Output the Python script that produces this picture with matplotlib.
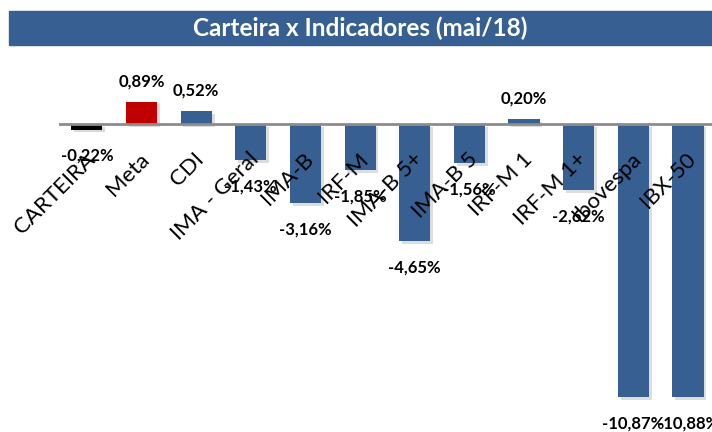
import numpy as np
import matplotlib.pyplot as plt
import matplotlib.patheffects as pe
from matplotlib.patches import Rectangle

plt.rcParams['font.family'] = ['Lato', 'DejaVu Sans']

categories = ["CARTEIRA", "Meta", "CDI", "IMA - Geral", "IMA-B", "IRF-M",
              "IMA-B 5+", "IMA-B 5", "IRF-M 1", "IRF-M 1+", "Ibovespa", "IBX-50"]
values = [-0.22, 0.89, 0.52, -1.43, -3.16, -1.85, -4.65, -1.56, 0.20, -2.62, -10.87, -10.88]
labels = ["-0,22%", "0,89%", "0,52%", "-1,43%", "-3,16%", "-1,85%",
          "-4,65%", "-1,56%", "0,20%", "-2,62%", "-10,87%", "-10,88%"]

blue = "#375F92"
colors = [blue] * len(values)
colors[0] = "#000000"
colors[1] = "#C00000"

fig = plt.figure(figsize=(7.12, 4.32), dpi=100)

# title bar
fig.patches.append(Rectangle((9 / 712, 1 - 45 / 432), 703 / 712, 34 / 432,
                             transform=fig.transFigure, color=blue, zorder=0))
fig.text(0.5 + 4.5 / 712, 1 - 28 / 432, "Carteira x Indicadores (mai/18)",
         ha="center", va="center", color="white", fontsize=17.5, fontweight="bold")

ax = fig.add_axes([59 / 712, 0, 653 / 712, 1 - 60 / 432])
x = np.arange(len(values))
bars = ax.bar(x, values, width=0.57, color=colors, zorder=3)
for b in bars:
    b.set_path_effects([pe.SimplePatchShadow(offset=(2, -2), alpha=0.15), pe.Normal()])

ax.axhline(0, color="#8C8C8C", lw=2, zorder=4)
ax.set_xlim(-0.51, 11.44)
ax.set_ylim(-12.27, 2.55)
ax.axis("off")

for xi, v, lab in zip(x, values, labels):
    if v >= 0:
        ax.text(xi, v + 0.8, lab, ha="center", va="center", fontsize=12,
                fontweight="bold", zorder=5)
    else:
        ax.text(xi, v - 1.05, lab, ha="center", va="center", fontsize=12,
                fontweight="bold", zorder=5)

for xi, cat in zip(x, categories):
    ax.text(xi - 0.04, -1.0, cat, ha="right", va="top", rotation=45,
            rotation_mode="anchor", fontsize=16, zorder=6)

fig.savefig("out.png", dpi=100)
